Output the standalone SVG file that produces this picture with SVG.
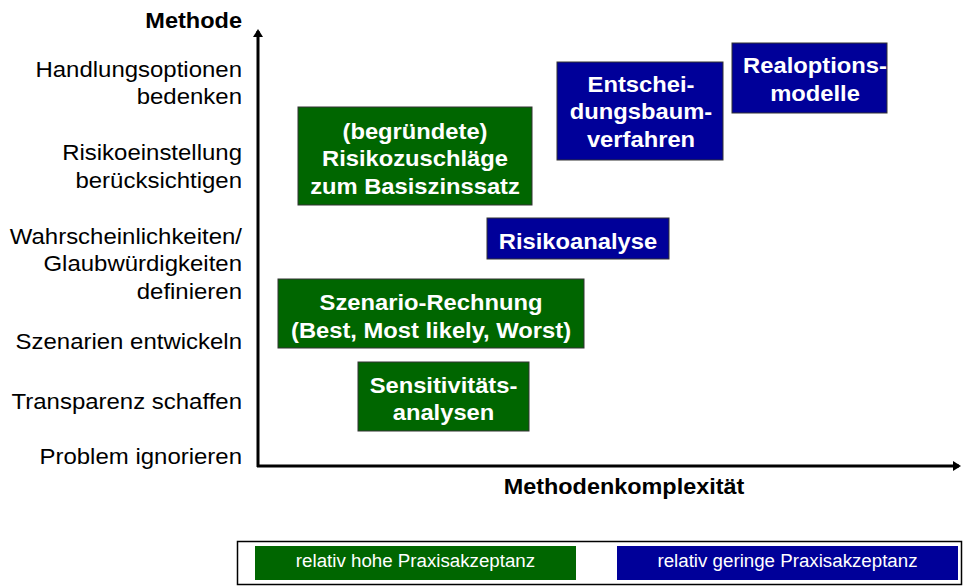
<svg xmlns="http://www.w3.org/2000/svg" width="963" height="587" viewBox="0 0 963 587">
<style>
text{font-family:"Liberation Sans",Arial,sans-serif;}
.lab{font-size:22px;fill:#000;text-anchor:end;}
.bold{font-weight:bold;}
.nt{font-size:22px;font-weight:bold;fill:#fff;text-anchor:middle;}
.g{fill:#006600;stroke:#333;stroke-width:1;}
.b{fill:#000099;stroke:#333;stroke-width:1;}
.axis{stroke:#000;stroke-width:3;fill:none;}
.leg{font-size:18px;fill:#fff;text-anchor:middle;}
</style>
<defs>
<marker id="arr" markerWidth="10" markerHeight="10" refX="6" refY="5" orient="auto" markerUnits="userSpaceOnUse">
<path d="M0,0 L8,5 L0,10 Z" fill="#000"/>
</marker>
</defs>
<rect width="963" height="587" fill="#fff"/>
<g id="connectors">
<line class="axis" x1="258" y1="467" x2="258" y2="31" marker-end="url(#arr)"/>
<line class="axis" x1="257" y1="466" x2="959" y2="466" marker-end="url(#arr)"/>
</g>
<g id="y-labels">
<text class="lab bold" transform="translate(242,28) scale(1.07,1)">Methode</text>
<text class="lab" transform="translate(242,77) scale(1.09,1)"><tspan x="0" y="0">Handlungsoptionen</tspan><tspan x="0" y="27">bedenken</tspan></text>
<text class="lab" transform="translate(242,160) scale(1.09,1)"><tspan x="0" y="0">Risikoeinstellung</tspan><tspan x="0" y="28">berücksichtigen</tspan></text>
<text class="lab" transform="translate(242,244) scale(1.09,1)"><tspan x="0" y="0">Wahrscheinlichkeiten/</tspan><tspan x="0" y="27">Glaubwürdigkeiten</tspan><tspan x="0" y="55">definieren</tspan></text>
<text class="lab" transform="translate(242,349) scale(1.09,1)">Szenarien entwickeln</text>
<text class="lab" transform="translate(242,409) scale(1.09,1)">Transparenz schaffen</text>
<text class="lab" transform="translate(242,464) scale(1.09,1)">Problem ignorieren</text>
</g>
<text class="bold" font-size="21.5" text-anchor="middle" transform="translate(624,494) scale(1.09,1)">Methodenkomplexität</text>
<g id="node-risikozuschlaege">
<rect class="g" x="298" y="107" width="234" height="98"/>
<text class="nt" transform="translate(415,139) scale(1.08,1)"><tspan x="0" y="0">(begründete)</tspan><tspan x="0" y="27.5">Risikozuschläge</tspan><tspan x="0" y="55">zum Basiszinssatz</tspan></text>
</g>
<g id="node-entscheidungsbaum">
<rect class="b" x="557" y="62" width="166" height="98"/>
<text class="nt" transform="translate(641,92) scale(1.08,1)"><tspan x="0" y="0">Entschei-</tspan><tspan x="0" y="27.5">dungsbaum-</tspan><tspan x="0" y="55">verfahren</tspan></text>
</g>
<g id="node-realoptionen">
<rect class="b" x="732" y="43" width="155" height="70"/>
<text class="nt" transform="translate(815,73) scale(1.08,1)"><tspan x="0" y="0">Realoptions-</tspan><tspan x="0" y="28">modelle</tspan></text>
</g>
<g id="node-risikoanalyse">
<rect class="b" x="487" y="218" width="182" height="41"/>
<text class="nt" transform="translate(578,249) scale(1.08,1)">Risikoanalyse</text>
</g>
<g id="node-szenario">
<rect class="g" x="278" y="279" width="306" height="69"/>
<text class="nt" transform="translate(431,310) scale(1.08,1)"><tspan x="0" y="0">Szenario-Rechnung</tspan><tspan x="0" y="28">(Best, Most likely, Worst)</tspan></text>
</g>
<g id="node-sensitivitaet">
<rect class="g" x="358" y="362" width="171" height="69"/>
<text class="nt" transform="translate(443.5,393) scale(1.08,1)"><tspan x="0" y="0">Sensitivitäts-</tspan><tspan x="0" y="27">analysen</tspan></text>
</g>
<g id="legend">
<rect x="237.5" y="541.5" width="724" height="43" fill="#fff" stroke="#000" stroke-width="1.5"/>
<rect x="255" y="546" width="321" height="34" fill="#006600"/>
<text class="leg" transform="translate(415.5,567) scale(1.04,1)">relativ hohe Praxisakzeptanz</text>
<rect x="617" y="546" width="341" height="34" fill="#000099"/>
<text class="leg" transform="translate(787.5,567) scale(1.04,1)">relativ geringe Praxisakzeptanz</text>
</g>
</svg>
